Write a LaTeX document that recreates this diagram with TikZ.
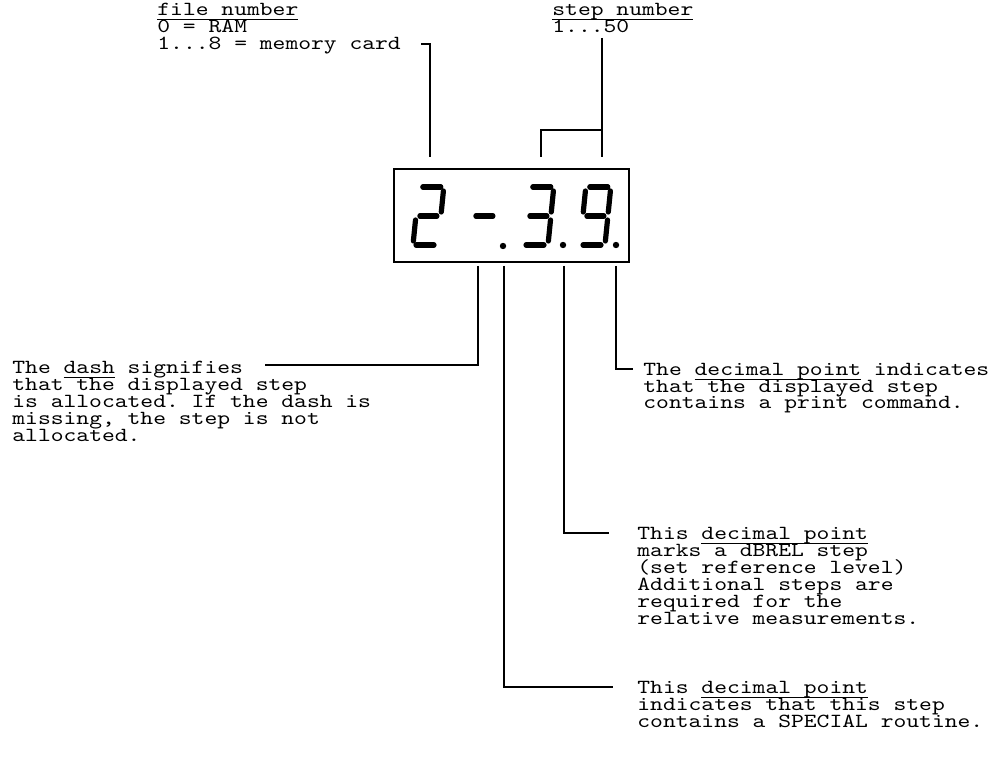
\documentclass[tikz,border=0pt]{standalone}
\usepackage{fontspec}
\newfontfamily\typw{lmmono10-regular.otf}[FakeStretch=1.22]
\newcommand\ul[1]{\setbox0\hbox{#1}\rlap{\rule[-2.3pt]{\wd0}{0.5pt}}\box0\relax}
\newcommand\blk[1]{\vtop{\baselineskip=8.5pt\lineskiplimit=-20pt\lineskip=0pt\halign{##\hfil\cr#1\crcr}}}
\newcommand\segA{\draw[seg] (4,58)--(22,58);}
\newcommand\segB{\draw[seg] (25,54)--(25,33);}
\newcommand\segC{\draw[seg] (25,25)--(25,4);}
\newcommand\segD{\draw[seg] (3,0)--(21,0);}
\newcommand\segE{\draw[seg] (0,4)--(0,25);}
\newcommand\segF{\draw[seg] (0,33)--(0,54);}
\newcommand\segG{\draw[seg] (4,29)--(21,29);}
\begin{document}
\begin{tikzpicture}[x=0.5pt,y=0.5pt,
  txt/.style={inner sep=0pt, anchor=base west, font=\typw\fontsize{10}{8.5}\selectfont\frenchspacing},
  lead/.style={line width=0.8pt},
  seg/.style={line width=2.6pt, line cap=round},
  dispbox/.style={draw, line width=1.1pt, minimum width=117.5pt, minimum height=46.5pt, inner sep=0pt}]
\useasboundingbox (0,0) rectangle (1000,756);
% display
\node[dispbox] (disp) at (511.5,540.5) {};
\begin{scope}[shift={(413,511)}, xslant=0.1]
  \segA \segB \segG \segE \segD
\end{scope}
\begin{scope}[shift={(469,511)}, xslant=0.1]
  \segG
\end{scope}
\fill (503,510) circle (3.2);
\begin{scope}[shift={(523,511)}, xslant=0.1]
  \segA \segB \segG \segC \segD
\end{scope}
\fill (563,511) circle (3.2);
\begin{scope}[shift={(580,511)}, xslant=0.1]
  \segA \segB \segF \segG \segC \segD
\end{scope}
\fill (616,511) circle (3.2);
% texts
\node[txt] (file) at (157,740.5) {\blk{\ul{file number}\cr 0 = RAM\cr 1...8 = memory card}};
\node[txt] (step) at (552,740.5) {\blk{\ul{step number}\cr 1...50}};
\node[txt] (dash) at (12,383) {\blk{The \ul{dash} signifies\cr that the displayed step\cr is allocated. If the dash is\cr missing, the step is not\cr allocated.}};
\node[txt] (print) at (643,381) {\blk{The \ul{decimal point} indicates\cr that the displayed step\cr contains a print command.}};
\node[txt] (dbrel) at (637,217) {\blk{This \ul{decimal point}\cr marks a dBREL step\cr (set reference level)\cr Additional steps are\cr required for the\cr relative measurements.}};
\node[txt] (special) at (637,63) {\blk{This \ul{decimal point}\cr indicates that this step\cr contains a SPECIAL routine.}};
% connector points
\coordinate (fileL) at (430,712);
\coordinate (fileT) at (430,599);
\coordinate (stepS) at (602,718);
\coordinate (stepT) at (602,599);
\coordinate (brL) at (541,599);
\coordinate (brM) at (541,626);
\coordinate (brR) at (602,626);
\coordinate (d1) at (478,490);
\coordinate (d1b) at (478,391);
\coordinate (d1e) at (265,391);
\coordinate (d2) at (504,490);
\coordinate (d2b) at (504,69);
\coordinate (d3) at (564,490);
\coordinate (d3b) at (564,223);
\coordinate (d4) at (616,490);
\coordinate (d4b) at (616,387);
% connectors
\draw[lead] ([xshift=10]file.east |- fileL) -- (fileL) -- (fileT);
\draw[lead] (stepS) -- (stepT);
\draw[lead] (brL) -- (brM) -- (brR);
\draw[lead] (d1) -- (d1b) -- (d1e);
\draw[lead] (d2) -- (d2b) -- ([xshift=-12]special.west |- d2b);
\draw[lead] (d3) -- (d3b) -- ([xshift=-14]dbrel.west |- d3b);
\draw[lead] (d4) -- (d4b) -- ([xshift=-5]print.west |- d4b);
\end{tikzpicture}
\end{document}
